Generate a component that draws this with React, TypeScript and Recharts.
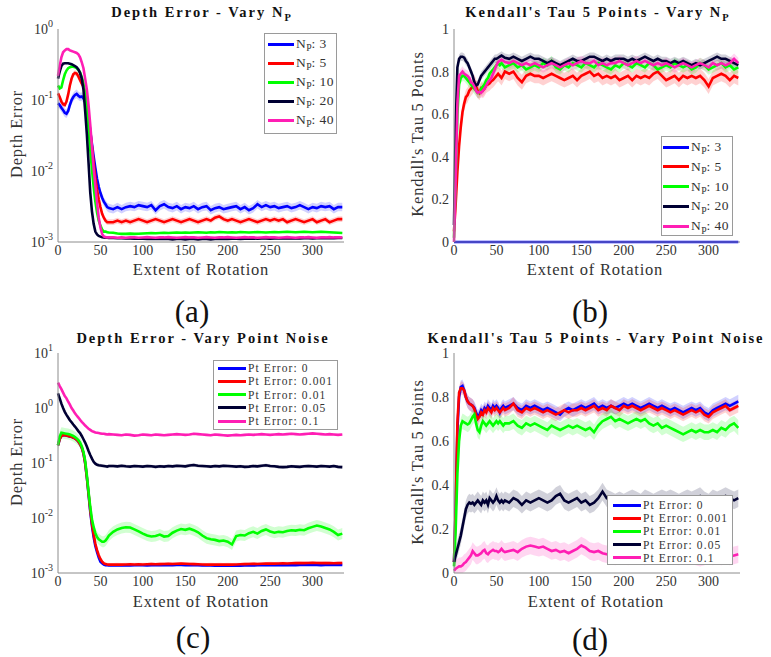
import React from 'react';
import { ComposedChart, Line, Area, XAxis, YAxis } from 'recharts';

// extent of rotation (degrees) at which every curve is sampled
const rotation = [
  0, 2, 4, 6, 8, 10, 12, 14, 16, 18, 20, 22, 24, 26, 28, 30, 32, 34, 36, 38, 40, 42, 44, 46, 48, 50, 52, 54, 56, 58, 60,
  65, 70, 75, 80, 85, 90, 95, 100, 105, 110, 115, 120, 125, 130, 135, 140, 145, 150, 155, 160, 165, 170, 175, 180,
  185, 190, 195, 200, 205, 210, 215, 220, 225, 230, 235, 240, 245, 250, 255, 260, 265, 270, 275, 280, 285, 290, 295,
  300, 305, 310, 315, 320, 325, 330, 335,
];

// (a) depth error, vary N_P
const aBlue = [
  0.09, 0.085, 0.078, 0.072, 0.066, 0.064, 0.07, 0.085, 0.1, 0.11, 0.118, 0.122, 0.115, 0.11, 0.112, 0.105, 0.095, 0.08,
  0.058, 0.037, 0.024, 0.016, 0.011, 0.0078, 0.006, 0.0049, 0.0042, 0.0037, 0.0034, 0.0031, 0.003,
  0.0029, 0.0031, 0.0029, 0.0031, 0.0032, 0.0031, 0.0033, 0.0032, 0.0031, 0.0033,
  0.0028, 0.0032, 0.0034, 0.0031, 0.003, 0.0032, 0.0029, 0.0031, 0.003, 0.0032,
  0.0029, 0.0031, 0.0032, 0.0028, 0.003, 0.0031, 0.0029, 0.003, 0.0031, 0.0032,
  0.0029, 0.0031, 0.0028, 0.003, 0.0034, 0.0031, 0.0033, 0.0031, 0.0032, 0.003,
  0.0031, 0.0032, 0.003, 0.0031, 0.0033, 0.0031, 0.0029, 0.0031, 0.003, 0.0032,
  0.0031, 0.0032, 0.0029, 0.0031, 0.0031,
];
const aRed = [
  0.124, 0.11, 0.095, 0.087, 0.085, 0.095, 0.12, 0.16, 0.2, 0.23, 0.24, 0.235, 0.215, 0.19, 0.17, 0.155, 0.12, 0.085,
  0.058, 0.036, 0.022, 0.013, 0.008, 0.0055, 0.004, 0.0031, 0.0025, 0.0022, 0.002, 0.0019, 0.0019,
  0.0019, 0.002, 0.0019, 0.002, 0.0019, 0.002, 0.0021, 0.002, 0.0019, 0.002,
  0.0021, 0.002, 0.0019, 0.002, 0.0021, 0.002, 0.0019, 0.002, 0.0021, 0.002,
  0.0019, 0.002, 0.0021, 0.002, 0.0022, 0.0023, 0.0021, 0.002, 0.0021, 0.002,
  0.0019, 0.002, 0.0021, 0.002, 0.0019, 0.002, 0.0021, 0.002, 0.0021, 0.002,
  0.0021, 0.0019, 0.002, 0.0021, 0.002, 0.0019, 0.002, 0.0021, 0.0019, 0.002,
  0.0021, 0.0019, 0.002, 0.0021, 0.0021,
];
const aGreen = [
  0.16, 0.145, 0.15, 0.19, 0.23, 0.26, 0.28, 0.29, 0.295, 0.295, 0.29, 0.28, 0.265, 0.245, 0.21, 0.17, 0.12, 0.075,
  0.04, 0.02, 0.0105, 0.006, 0.0037, 0.0026, 0.002, 0.0017, 0.0015, 0.0014, 0.0014, 0.00137, 0.00136,
  0.00135, 0.00132, 0.0013, 0.0013, 0.00131, 0.0013, 0.00131, 0.00132, 0.00133, 0.00134,
  0.00133, 0.00134, 0.00135, 0.00134, 0.00135, 0.00136, 0.00135, 0.00136, 0.00135, 0.00136,
  0.00137, 0.00136, 0.00135, 0.00137, 0.00136, 0.00138, 0.00137, 0.00136, 0.00137, 0.00136,
  0.00138, 0.00137, 0.00136, 0.00137, 0.00138, 0.00137, 0.00136, 0.00137, 0.00138, 0.00137,
  0.00138, 0.00139, 0.00138, 0.00137, 0.00138, 0.00139, 0.00138, 0.00137, 0.00138, 0.00139,
  0.00138, 0.00137, 0.00136, 0.00135, 0.00134,
];
const aBlack = [
  0.2, 0.25, 0.3, 0.325, 0.33, 0.33, 0.33, 0.325, 0.32, 0.31, 0.3, 0.29, 0.27, 0.24, 0.2, 0.14, 0.07, 0.033, 0.013,
  0.005, 0.0027, 0.0018, 0.0014, 0.00128, 0.00122, 0.00119, 0.00117, 0.00116, 0.00115, 0.00115, 0.00114,
  0.00114, 0.00113, 0.00113, 0.00112, 0.00112, 0.00111, 0.00111, 0.00111, 0.0011, 0.00111,
  0.0011, 0.00111, 0.0011, 0.0011, 0.00109, 0.0011, 0.0011, 0.00109, 0.0011, 0.0011,
  0.00109, 0.0011, 0.0011, 0.00109, 0.0011, 0.00111, 0.0011, 0.0011, 0.00111, 0.00111,
  0.0011, 0.00111, 0.00111, 0.00112, 0.00111, 0.00112, 0.00112, 0.00111, 0.00112, 0.00112,
  0.00113, 0.00112, 0.00112, 0.00113, 0.00112, 0.00113, 0.00113, 0.00112, 0.00113, 0.00113,
  0.00114, 0.00113, 0.00113, 0.00114, 0.00114,
];
const aMagenta = [
  0.22, 0.3, 0.4, 0.47, 0.5, 0.52, 0.52, 0.5, 0.49, 0.48, 0.47, 0.46, 0.44, 0.4, 0.34, 0.28, 0.2, 0.14, 0.085, 0.045,
  0.022, 0.011, 0.0063, 0.0036, 0.0022, 0.0016, 0.0013, 0.0012, 0.00117, 0.00116, 0.00116,
  0.00116, 0.00115, 0.00116, 0.00115, 0.00116, 0.00116, 0.00115, 0.00116, 0.00117, 0.00116,
  0.00115, 0.00116, 0.00116, 0.00117, 0.00116, 0.00115, 0.00116, 0.00117, 0.00116, 0.00116,
  0.00115, 0.00116, 0.00117, 0.00116, 0.00115, 0.00116, 0.00116, 0.00117, 0.00116, 0.00115,
  0.00116, 0.00117, 0.00116, 0.00116, 0.00115, 0.00116, 0.00117, 0.00116, 0.00116, 0.00115,
  0.00116, 0.00117, 0.00116, 0.00115, 0.00116, 0.00116, 0.00117, 0.00116, 0.00115, 0.00116,
  0.00116, 0.00117, 0.00116, 0.00116, 0.00116,
];

// (b) Kendall's tau, vary N_P
const bBlue = [
  0, 0, 0, 0, 0, 0, 0, 0, 0, 0, 0, 0, 0, 0, 0, 0, 0, 0, 0, 0, 0, 0, 0, 0, 0, 0, 0, 0, 0, 0, 0,
  0, 0, 0, 0, 0, 0, 0, 0, 0, 0, 0, 0, 0, 0, 0, 0, 0, 0, 0, 0, 0, 0, 0, 0, 0, 0, 0, 0, 0, 0,
  0, 0, 0, 0, 0, 0, 0, 0, 0, 0, 0, 0, 0, 0, 0, 0, 0, 0, 0, 0, 0, 0, 0, 0, 0,
];
const bRed = [
  0.05, 0.18, 0.33, 0.45, 0.54, 0.61, 0.65, 0.68, 0.69, 0.71, 0.72, 0.73, 0.75, 0.73, 0.71, 0.7, 0.72, 0.71, 0.72,
  0.735, 0.74, 0.745, 0.755, 0.76, 0.77, 0.78, 0.79, 0.78, 0.77, 0.785, 0.8,
  0.79, 0.8, 0.77, 0.75, 0.78, 0.79, 0.78, 0.78, 0.77, 0.78,
  0.79, 0.78, 0.77, 0.76, 0.77, 0.78, 0.76, 0.78, 0.79, 0.8,
  0.78, 0.79, 0.77, 0.78, 0.77, 0.78, 0.76, 0.77, 0.78, 0.76,
  0.78, 0.77, 0.78, 0.77, 0.79, 0.8, 0.78, 0.76, 0.77, 0.78,
  0.76, 0.78, 0.77, 0.78, 0.77, 0.78, 0.76, 0.73, 0.77, 0.78,
  0.79, 0.78, 0.76, 0.78, 0.77,
];
const bGreen = [
  0.02, 0.3, 0.6, 0.74, 0.77, 0.78, 0.78, 0.77, 0.76, 0.75, 0.74, 0.73, 0.72, 0.71, 0.7, 0.7, 0.72, 0.73, 0.74, 0.76,
  0.77, 0.79, 0.8, 0.81, 0.82, 0.83, 0.84, 0.83, 0.84, 0.83, 0.82,
  0.83, 0.84, 0.82, 0.83, 0.81, 0.82, 0.83, 0.82, 0.84, 0.83,
  0.85, 0.82, 0.81, 0.83, 0.82, 0.84, 0.83, 0.82, 0.84, 0.83,
  0.82, 0.84, 0.83, 0.82, 0.81, 0.83, 0.82, 0.84, 0.83, 0.82,
  0.84, 0.83, 0.82, 0.84, 0.83, 0.81, 0.82, 0.83, 0.82, 0.84,
  0.83, 0.82, 0.83, 0.81, 0.82, 0.84, 0.83, 0.81, 0.82, 0.83,
  0.84, 0.82, 0.83, 0.81, 0.82,
];
const bBlack = [
  0.08, 0.55, 0.82, 0.86, 0.87, 0.87, 0.865, 0.85, 0.84, 0.82, 0.8, 0.78, 0.75, 0.735, 0.74, 0.76, 0.78, 0.79, 0.8,
  0.81, 0.82, 0.83, 0.84, 0.85, 0.86, 0.86, 0.865, 0.87, 0.875, 0.87, 0.865,
  0.86, 0.87, 0.86, 0.85, 0.86, 0.87, 0.86, 0.86, 0.85, 0.84,
  0.85, 0.84, 0.83, 0.84, 0.85, 0.86, 0.85, 0.85, 0.86, 0.87,
  0.87, 0.86, 0.85, 0.86, 0.85, 0.86, 0.86, 0.86, 0.85, 0.86,
  0.85, 0.86, 0.87, 0.86, 0.85, 0.86, 0.85, 0.85, 0.84, 0.85,
  0.84, 0.85, 0.84, 0.83, 0.84, 0.83, 0.84, 0.85, 0.86, 0.87,
  0.86, 0.86, 0.85, 0.84, 0.83,
];
const bMagenta = [
  0, 0.3, 0.65, 0.78, 0.79, 0.8, 0.79, 0.785, 0.78, 0.77, 0.75, 0.745, 0.73, 0.71, 0.7, 0.705, 0.7, 0.71, 0.72, 0.735,
  0.75, 0.76, 0.77, 0.79, 0.81, 0.83, 0.845, 0.85, 0.855, 0.85, 0.845,
  0.84, 0.85, 0.84, 0.83, 0.84, 0.83, 0.84, 0.83, 0.82, 0.83,
  0.84, 0.83, 0.82, 0.83, 0.84, 0.83, 0.84, 0.85, 0.84, 0.84,
  0.85, 0.83, 0.84, 0.83, 0.84, 0.84, 0.85, 0.84, 0.83, 0.84,
  0.85, 0.84, 0.85, 0.84, 0.83, 0.84, 0.83, 0.84, 0.83, 0.82,
  0.83, 0.84, 0.83, 0.82, 0.83, 0.84, 0.83, 0.82, 0.84, 0.83,
  0.84, 0.83, 0.84, 0.86, 0.84,
];

// (c) depth error, vary point noise
const cBlue = [
  0.21, 0.27, 0.31, 0.32, 0.32, 0.315, 0.31, 0.305, 0.3, 0.29, 0.28, 0.265, 0.245, 0.22, 0.19, 0.15, 0.1, 0.055, 0.027,
  0.013, 0.0072, 0.0045, 0.0031, 0.0024, 0.0019, 0.0016, 0.0015, 0.00142, 0.00139, 0.00138, 0.00137,
  0.00137, 0.00138, 0.00137, 0.00138, 0.00137, 0.00138, 0.00139, 0.00138, 0.00137, 0.00138,
  0.00139, 0.00138, 0.00139, 0.0014, 0.00139, 0.0014, 0.0014, 0.00139, 0.00138, 0.00139,
  0.00138, 0.00137, 0.00138, 0.00137, 0.00136, 0.00137, 0.00136, 0.00137, 0.00136, 0.00137,
  0.00136, 0.00137, 0.00138, 0.00137, 0.00138, 0.00139, 0.00138, 0.00139, 0.00138, 0.00139,
  0.00138, 0.00139, 0.0014, 0.00139, 0.0014, 0.00141, 0.0014, 0.00141, 0.0014, 0.00139,
  0.0014, 0.00141, 0.0014, 0.0014, 0.0014,
];
const cRed = [
  0.21, 0.27, 0.31, 0.32, 0.32, 0.315, 0.31, 0.305, 0.3, 0.29, 0.28, 0.265, 0.245, 0.22, 0.19, 0.15, 0.1, 0.055, 0.028,
  0.014, 0.0079, 0.005, 0.0034, 0.0026, 0.0021, 0.0018, 0.0016, 0.0015, 0.00145, 0.00143, 0.00142,
  0.00142, 0.00143, 0.00142, 0.00143, 0.00144, 0.00143, 0.00144, 0.00143, 0.00144, 0.00145,
  0.00144, 0.00145, 0.00146, 0.00147, 0.00146, 0.00147, 0.00148, 0.00147, 0.00146, 0.00145,
  0.00144, 0.00143, 0.00142, 0.00143, 0.00142, 0.00143, 0.00142, 0.00143, 0.00142, 0.00143,
  0.00144, 0.00145, 0.00146, 0.00147, 0.00146, 0.00147, 0.00148, 0.00149, 0.00148, 0.00149,
  0.0015, 0.00149, 0.0015, 0.00151, 0.00152, 0.00151, 0.00152, 0.00153, 0.00152, 0.00151,
  0.00152, 0.00151, 0.0015, 0.00151, 0.00152,
];
const cGreen = [
  0.21, 0.3, 0.355, 0.35, 0.345, 0.34, 0.335, 0.33, 0.32, 0.31, 0.295, 0.28, 0.26, 0.235, 0.2, 0.16, 0.11, 0.06, 0.03,
  0.016, 0.0095, 0.0068, 0.0053, 0.0045, 0.0041, 0.0039, 0.0037, 0.0037, 0.0039, 0.0043, 0.0048,
  0.0056, 0.0062, 0.0066, 0.0068, 0.0067, 0.0062, 0.0057, 0.0052, 0.0048, 0.0046,
  0.0047, 0.005, 0.0046, 0.0047, 0.0054, 0.0059, 0.0063, 0.0061, 0.0064, 0.006,
  0.0055, 0.0048, 0.0043, 0.0041, 0.004, 0.0038, 0.0039, 0.0037, 0.0033, 0.0047,
  0.0049, 0.0048, 0.0053, 0.0056, 0.0052, 0.0058, 0.0062, 0.0057, 0.0054, 0.0056,
  0.0055, 0.0058, 0.006, 0.0059, 0.0061, 0.006, 0.0065, 0.0069, 0.0073, 0.007,
  0.0066, 0.0062, 0.0056, 0.0049, 0.0052,
];
const cBlack = [
  1.85, 1.5, 1.2, 1.0, 0.85, 0.75, 0.67, 0.6, 0.55, 0.5, 0.46, 0.42, 0.38, 0.35, 0.31, 0.27, 0.235, 0.2, 0.165, 0.14,
  0.12, 0.105, 0.097, 0.093, 0.091, 0.09, 0.089, 0.088, 0.087, 0.086, 0.088,
  0.088, 0.087, 0.089, 0.087, 0.086, 0.088, 0.087, 0.086, 0.088, 0.087,
  0.085, 0.087, 0.086, 0.088, 0.087, 0.089, 0.088, 0.087, 0.09, 0.092,
  0.089, 0.088, 0.087, 0.086, 0.088, 0.087, 0.089, 0.088, 0.087, 0.086,
  0.087, 0.085, 0.086, 0.088, 0.087, 0.089, 0.091, 0.088, 0.087, 0.085,
  0.084, 0.085, 0.087, 0.086, 0.085, 0.087, 0.088, 0.087, 0.086, 0.088,
  0.087, 0.086, 0.088, 0.085, 0.084,
];
const cMagenta = [
  2.9, 2.5, 2.2, 1.9, 1.65, 1.5, 1.3, 1.15, 1.0, 0.9, 0.8, 0.73, 0.67, 0.61, 0.56, 0.52, 0.48, 0.45, 0.42, 0.4, 0.38,
  0.37, 0.36, 0.355, 0.35, 0.345, 0.34, 0.34, 0.335, 0.33, 0.335,
  0.33, 0.325, 0.32, 0.33, 0.325, 0.315, 0.32, 0.33, 0.325, 0.32,
  0.33, 0.325, 0.32, 0.325, 0.33, 0.335, 0.33, 0.325, 0.33, 0.34,
  0.335, 0.33, 0.325, 0.32, 0.33, 0.325, 0.32, 0.315, 0.32, 0.325,
  0.32, 0.325, 0.33, 0.325, 0.33, 0.335, 0.33, 0.325, 0.33, 0.335,
  0.33, 0.335, 0.34, 0.335, 0.33, 0.335, 0.34, 0.345, 0.34, 0.335,
  0.33, 0.335, 0.33, 0.325, 0.33,
];

// (d) Kendall's tau, vary point noise
const dBlue = [
  0.05, 0.3, 0.65, 0.8, 0.845, 0.85, 0.83, 0.8, 0.78, 0.77, 0.765, 0.76, 0.75, 0.73, 0.71, 0.72, 0.74, 0.73, 0.75, 0.74,
  0.76, 0.75, 0.74, 0.76, 0.75, 0.76, 0.75, 0.73, 0.75, 0.76, 0.75,
  0.76, 0.77, 0.75, 0.74, 0.76, 0.75, 0.76, 0.75, 0.74, 0.75,
  0.74, 0.73, 0.72, 0.74, 0.75, 0.74, 0.75, 0.76, 0.75, 0.76,
  0.77, 0.75, 0.76, 0.75, 0.76, 0.75, 0.76, 0.77, 0.76, 0.77,
  0.76, 0.75, 0.76, 0.77, 0.76, 0.75, 0.76, 0.75, 0.74, 0.75,
  0.74, 0.73, 0.74, 0.75, 0.74, 0.75, 0.73, 0.72, 0.74, 0.75,
  0.76, 0.77, 0.76, 0.77, 0.78,
];
const dRed = [
  0.05, 0.3, 0.68, 0.82, 0.84, 0.84, 0.83, 0.8, 0.78, 0.77, 0.765, 0.76, 0.745, 0.72, 0.7, 0.71, 0.73, 0.72, 0.74, 0.73,
  0.75, 0.74, 0.73, 0.75, 0.74, 0.75, 0.74, 0.73, 0.74, 0.75, 0.74,
  0.75, 0.77, 0.74, 0.73, 0.75, 0.74, 0.75, 0.74, 0.73, 0.74,
  0.73, 0.72, 0.73, 0.74, 0.73, 0.74, 0.74, 0.75, 0.74, 0.75,
  0.76, 0.74, 0.75, 0.74, 0.76, 0.75, 0.74, 0.76, 0.75, 0.76,
  0.75, 0.74, 0.75, 0.76, 0.75, 0.74, 0.75, 0.74, 0.73, 0.74,
  0.73, 0.72, 0.73, 0.74, 0.73, 0.74, 0.72, 0.71, 0.73, 0.74,
  0.75, 0.76, 0.74, 0.75, 0.76,
];
const dGreen = [
  0.03, 0.2, 0.45, 0.6, 0.67, 0.69, 0.685, 0.68, 0.675, 0.68, 0.695, 0.71, 0.72, 0.68, 0.65, 0.64, 0.67, 0.69, 0.68,
  0.67, 0.68, 0.69, 0.68, 0.67, 0.68, 0.69, 0.68, 0.69, 0.68, 0.67, 0.68,
  0.68, 0.69, 0.67, 0.66, 0.68, 0.67, 0.68, 0.67, 0.66, 0.65,
  0.67, 0.66, 0.65, 0.66, 0.67, 0.66, 0.67, 0.66, 0.65, 0.66,
  0.64, 0.67, 0.69, 0.7, 0.71, 0.69, 0.7, 0.69, 0.68, 0.69,
  0.7, 0.69, 0.7, 0.68, 0.67, 0.68, 0.66, 0.67, 0.66, 0.65,
  0.64, 0.63, 0.64, 0.65, 0.64, 0.65, 0.64, 0.64, 0.65, 0.64,
  0.66, 0.65, 0.67, 0.68, 0.66,
];
const dBlack = [
  0.05, 0.08, 0.11, 0.14, 0.17, 0.21, 0.25, 0.29, 0.31, 0.32, 0.315, 0.32, 0.31, 0.32, 0.33, 0.32, 0.31, 0.33, 0.32,
  0.33, 0.31, 0.34, 0.33, 0.32, 0.33, 0.35, 0.33, 0.32, 0.33, 0.32, 0.33,
  0.32, 0.34, 0.33, 0.31, 0.33, 0.32, 0.33, 0.34, 0.33, 0.32,
  0.33, 0.35, 0.36, 0.33, 0.32, 0.33, 0.34, 0.32, 0.33, 0.31,
  0.32, 0.34, 0.37, 0.34, 0.33, 0.32, 0.33, 0.32, 0.33, 0.34,
  0.33, 0.32, 0.34, 0.33, 0.32, 0.33, 0.34, 0.33, 0.34, 0.33,
  0.32, 0.33, 0.34, 0.33, 0.34, 0.35, 0.33, 0.32, 0.34, 0.33,
  0.34, 0.35, 0.34, 0.33, 0.34,
];
const dMagenta = [
  0.01, 0.02, 0.025, 0.03, 0.03, 0.035, 0.045, 0.05, 0.06, 0.07, 0.08, 0.1, 0.09, 0.08, 0.08, 0.085, 0.09, 0.1, 0.105,
  0.09, 0.085, 0.095, 0.1, 0.105, 0.1, 0.1, 0.095, 0.1, 0.11, 0.1, 0.095,
  0.1, 0.105, 0.095, 0.11, 0.12, 0.125, 0.12, 0.115, 0.12, 0.11,
  0.1, 0.105, 0.095, 0.1, 0.09, 0.1, 0.11, 0.125, 0.115, 0.1,
  0.095, 0.1, 0.09, 0.085, 0.08, 0.075, 0.08, 0.085, 0.075, 0.08,
  0.085, 0.08, 0.075, 0.08, 0.085, 0.08, 0.075, 0.08, 0.085, 0.08,
  0.075, 0.08, 0.085, 0.08, 0.075, 0.07, 0.075, 0.08, 0.075, 0.08,
  0.075, 0.08, 0.075, 0.08, 0.085,
];

// shaded spread around each mean (decades for the log panels, tau units for the linear ones)
const bandA = [0.06, 0.04, 0.015, 0.01, 0.015];
const bandB = [0, 0.035, 0.025, 0.02, 0.025];
const bandC = [0.02, 0.03, 0.1, 0.03, 0.02];
const bandD = [0.03, 0.03, 0.035, 0.04, 0.04];

const npLabels = ['3', '5', '10', '20', '40'];
const noiseLabels = ['0', '0.001', '0.01', '0.05', '0.1'];
const colors = ['#0000ff', '#ff0000', '#00ff00', '#000033', '#ff1eb4'];

const rotationTicks = [0, 50, 100, 150, 200, 250, 300];
const depthTicksA = [0.001, 0.01, 0.1, 1];
const depthTicksC = [0.001, 0.01, 0.1, 1, 10];
const tauTicks = [0, 0.2, 0.4, 0.6, 0.8, 1];

const SERIF = '"Liberation Serif", "Times New Roman", serif';
const TEXT = '#333';
const AXIS = '#8c8c8c';
const tickFont = { fontFamily: SERIF, fontSize: 14, fill: TEXT };

function LogTick(props: any) {
  const { x, y, payload } = props;
  const exp = Math.round(Math.log10(payload.value));
  return (
    <text x={x} y={y} dy={5} textAnchor="end" {...tickFont}>
      <tspan>10</tspan>
      <tspan dy={-7} fontSize={10}>{exp}</tspan>
    </text>
  );
}

function Panel(props: {
  series: number[][];
  bands: number[];
  log: boolean;
  yDomain: number[];
  yTicks: number[];
  left: number;
  top: number;
  margin: { top: number; right: number; bottom: number; left: number };
}) {
  const { series, bands, log, yDomain, yTicks, left, top, margin } = props;
  const rows = rotation.map((x, i) => {
    const r: any = { x };
    series.forEach((s, k) => {
      r['s' + k] = s[i];
    });
    return r;
  });

  return (
    <div style={{ position: 'absolute', left, top }}>
      <ComposedChart width={385} height={325} data={rows} margin={margin}>
        <XAxis
          dataKey="x"
          type="number"
          domain={[0, 337]}
          ticks={rotationTicks}
          height={30}
          tickSize={1}
          tickLine={false}
          axisLine={{ stroke: AXIS }}
          tick={tickFont}
        />
        <YAxis
          type="number"
          scale={log ? 'log' : 'linear'}
          domain={yDomain}
          ticks={yTicks}
          width={40}
          tickSize={3}
          tickLine={false}
          axisLine={{ stroke: AXIS }}
          tick={log ? <LogTick /> : tickFont}
        />
        {series.map((_, k) =>
          bands[k] > 0 ? (
            <Area
              key={'band' + k}
              type="linear"
              dataKey={(d: any) => {
                const v = d['s' + k];
                if (log) {
                  const f = Math.pow(10, bands[k]);
                  return [v / f, v * f];
                }
                return [Math.max(0, v - bands[k]), Math.min(1, v + bands[k])];
              }}
              stroke="none"
              fill={colors[k]}
              fillOpacity={0.18}
              activeDot={false}
              isAnimationActive={false}
            />
          ) : null
        )}
        {series.map((_, k) => (
          <Line
            key={'line' + k}
            type="linear"
            dataKey={'s' + k}
            stroke={colors[k]}
            strokeWidth={2.6}
            dot={false}
            activeDot={false}
            isAnimationActive={false}
          />
        ))}
      </ComposedChart>
    </div>
  );
}

const sub = (t: string) => (
  <span style={{ fontSize: '0.72em', position: 'relative', top: '0.35em', letterSpacing: 0 }}>{t}</span>
);

function Title({ cx, cy, children }: { cx: number; cy: number; children: React.ReactNode }) {
  return (
    <div
      style={{
        position: 'absolute',
        left: cx - 200,
        top: cy - 6,
        width: 400,
        height: 12,
        lineHeight: '12px',
        textAlign: 'center',
        fontFamily: SERIF,
        fontWeight: 'bold',
        fontSize: 14.5,
        letterSpacing: 2,
        color: '#111',
        whiteSpace: 'nowrap',
      }}
    >
      {children}
    </div>
  );
}

function AxisLabel({ cx, cy, rotate, children }: { cx: number; cy: number; rotate?: boolean; children: React.ReactNode }) {
  return (
    <div
      style={{
        position: 'absolute',
        left: cx - 120,
        top: cy - 7,
        width: 240,
        height: 14,
        lineHeight: '14px',
        textAlign: 'center',
        fontFamily: SERIF,
        fontSize: 16.5,
        letterSpacing: 0.8,
        color: TEXT,
        whiteSpace: 'nowrap',
        transform: rotate ? 'rotate(-90deg)' : undefined,
      }}
    >
      {children}
    </div>
  );
}

function PanelTag({ cx, cy, text }: { cx: number; cy: number; text: string }) {
  return (
    <div
      style={{
        position: 'absolute',
        left: cx - 40,
        top: cy - 18,
        width: 80,
        lineHeight: '36px',
        textAlign: 'center',
        fontFamily: SERIF,
        fontSize: 31,
        color: '#111',
      }}
    >
      {text}
    </div>
  );
}

function LegendBox(props: {
  left: number;
  top: number;
  width: number;
  height: number;
  first: number;
  step: number;
  lineX: number;
  lineW: number;
  fontSize: number;
  spacing: number;
  labels: React.ReactNode[];
}) {
  const { left, top, width, height, first, step, lineX, lineW, fontSize, spacing, labels } = props;
  return (
    <div
      style={{
        position: 'absolute',
        left,
        top,
        width,
        height,
        boxSizing: 'border-box',
        border: '1px solid #9a9a9a',
        background: '#fff',
        fontFamily: SERIF,
        fontSize,
        letterSpacing: spacing,
        color: TEXT,
      }}
    >
      {labels.map((lab, k) => (
        <div key={k} style={{ position: 'absolute', left: 0, top: first + k * step - 6, height: 12, width: '100%' }}>
          <div
            style={{ position: 'absolute', left: lineX, top: 4.5, width: lineW, height: 3, background: colors[k] }}
          />
          <div style={{ position: 'absolute', left: lineX + lineW + 2, top: 0, lineHeight: '12px', whiteSpace: 'nowrap' }}>
            {lab}
          </div>
        </div>
      ))}
    </div>
  );
}

export default function App() {
  const npLegend = npLabels.map((v) => (
    <span>
      N{sub('P')}: {v}
    </span>
  ));
  const noiseLegend = noiseLabels.map((v) => <span>Pt Error: {v}</span>);

  return (
    <div style={{ position: 'absolute', left: 0, top: 0, width: 771, height: 657, background: '#fff', overflow: 'hidden' }}>
      <Panel
        series={[aBlue, aRed, aGreen, aBlack, aMagenta]}
        bands={bandA}
        log
        yDomain={[0.001, 1]}
        yTicks={depthTicksA}
        left={0}
        top={0}
        margin={{ top: 29, right: 41, bottom: 53, left: 18 }}
      />
      <Panel
        series={[bBlue, bRed, bGreen, bBlack, bMagenta]}
        bands={bandB}
        log={false}
        yDomain={[0, 1]}
        yTicks={tauTicks}
        left={385}
        top={0}
        margin={{ top: 29, right: 30, bottom: 53, left: 29 }}
      />
      <Panel
        series={[cBlue, cRed, cGreen, cBlack, cMagenta]}
        bands={bandC}
        log
        yDomain={[0.001, 10]}
        yTicks={depthTicksC}
        left={0}
        top={325}
        margin={{ top: 28, right: 41, bottom: 47, left: 18 }}
      />
      <Panel
        series={[dBlue, dRed, dGreen, dBlack, dMagenta]}
        bands={bandD}
        log={false}
        yDomain={[0, 1]}
        yTicks={tauTicks}
        left={385}
        top={325}
        margin={{ top: 28, right: 30, bottom: 47, left: 29 }}
      />

      <Title cx={201} cy={12}>Depth Error - Vary N{sub('P')}</Title>
      <Title cx={597} cy={12}>Kendall's Tau 5 Points - Vary N{sub('P')}</Title>
      <Title cx={203} cy={338}>Depth Error - Vary Point Noise</Title>
      <Title cx={596} cy={338}>Kendall's Tau 5 Points - Vary Point Noise</Title>

      <AxisLabel cx={201} cy={270}>Extent of Rotation</AxisLabel>
      <AxisLabel cx={595} cy={270}>Extent of Rotation</AxisLabel>
      <AxisLabel cx={201} cy={602}>Extent of Rotation</AxisLabel>
      <AxisLabel cx={596} cy={602}>Extent of Rotation</AxisLabel>
      <AxisLabel cx={17} cy={134} rotate>Depth Error</AxisLabel>
      <AxisLabel cx={418} cy={134} rotate>Kendall's Tau 5 Points</AxisLabel>
      <AxisLabel cx={17} cy={462} rotate>Depth Error</AxisLabel>
      <AxisLabel cx={418} cy={462} rotate>Kendall's Tau 5 Points</AxisLabel>

      <LegendBox left={264} top={33} width={73} height={101} first={10} step={19} lineX={3} lineW={26} fontSize={13.5} spacing={0.4} labels={npLegend} />
      <LegendBox left={661} top={136} width={72} height={100} first={10} step={19.8} lineX={1} lineW={26} fontSize={13.5} spacing={0.4} labels={npLegend} />
      <LegendBox left={213} top={360} width={125} height={70} first={7} step={13.3} lineX={4} lineW={28} fontSize={11.5} spacing={1.1} labels={noiseLegend} />
      <LegendBox left={607} top={495} width={126} height={70} first={9} step={13.2} lineX={5} lineW={28} fontSize={11.5} spacing={1.1} labels={noiseLegend} />

      <PanelTag cx={192} cy={312} text="(a)" />
      <PanelTag cx={590} cy={312} text="(b)" />
      <PanelTag cx={193} cy={638} text="(c)" />
      <PanelTag cx={590} cy={640} text="(d)" />
    </div>
  );
}
